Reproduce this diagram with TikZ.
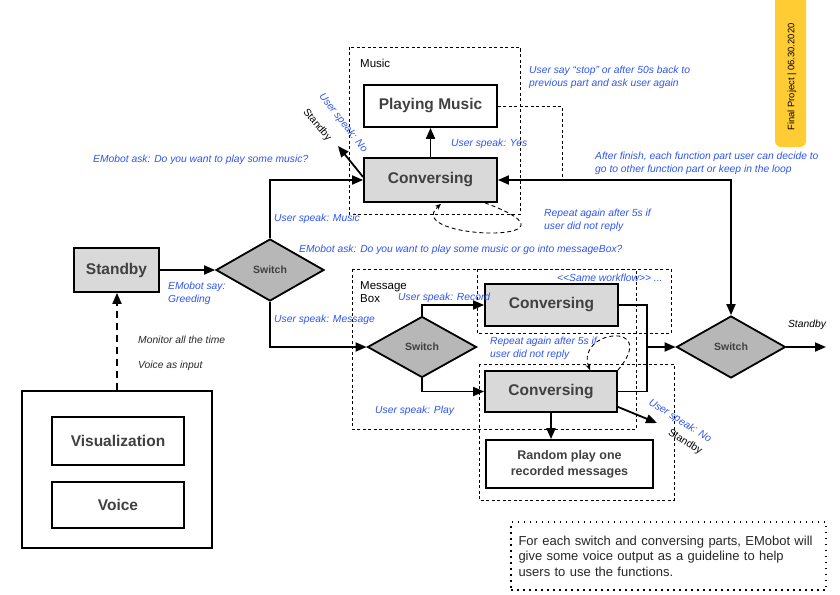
\documentclass[tikz,border=0pt]{standalone}
\usepackage{fontspec}
\setmainfont{Liberation Sans}
\usepackage{xcolor}
\usetikzlibrary{shapes.geometric,positioning,calc,arrows.meta}

\definecolor{talkblue}{RGB}{45,85,240}
\definecolor{boxtext}{RGB}{64,64,64}
\definecolor{convgray}{RGB}{217,217,217}
\definecolor{switchgray}{RGB}{183,183,183}
\definecolor{tagyellow}{RGB}{255,204,51}

\tikzset{
  box/.style={draw=black, line width=1.8pt, fill=white, text=boxtext,
    font=\fontsize{15.5}{18}\selectfont\bfseries, inner sep=0pt, align=center},
  convbox/.style={box, fill=convgray},
  switchnode/.style={diamond, draw=black, line width=1.8pt, fill=switchgray, text=boxtext,
    font=\fontsize{10.5}{12}\selectfont\bfseries, inner sep=0pt,
    minimum width=108pt, minimum height=62pt},
  say/.style={text=talkblue, font=\fontsize{10.3}{13}\selectfont\itshape, inner sep=0pt, align=left},
  remark/.style={text=black!85, font=\fontsize{10.3}{13}\selectfont\itshape, inner sep=0pt, align=left},
  grplabel/.style={text=black, font=\fontsize{11.5}{13}\selectfont, inner sep=0pt, align=left},
  grp/.style={draw=black, line width=0.8pt, dash pattern=on 3pt off 2.5pt},
  wire/.style={line width=1.8pt},
  flow/.style={line width=1.8pt, -{Triangle[length=11pt,width=9pt]}},
  bothway/.style={line width=1.8pt, {Triangle[length=11pt,width=9pt]}-{Triangle[length=11pt,width=9pt]}},
  loopback/.style={line width=0.9pt, dash pattern=on 4pt off 3pt, -{Stealth[length=6pt,width=5pt]}},
  notebox/.style={draw=black, line width=1.5pt, dash pattern=on 1.5pt off 4.5pt,
    font=\fontsize{13}{15.5}\selectfont, text=black!85, align=left,
    text width=300pt, inner xsep=7.5pt, minimum height=68pt}
}

\begin{document}
\begin{tikzpicture}[x=1pt, y=-1pt]
  \useasboundingbox (0,0) rectangle (840,594);

  % Date tag
  \fill[tagyellow, rounded corners=6pt] (775,-10) rectangle (806,147);
  \node[rotate=90, font=\fontsize{9.4}{11}\selectfont, inner sep=0pt] (datetag) at (792,77) {Final Project | 06.30.2020};

  % Group frames
  \draw[grp] (349,47) rectangle (520,214);   % Music
  \draw[grp] (352,269) rectangle (636,429);  % Message box
  \draw[grp] (477,269) rectangle (671,333);  % same workflow
  \draw[grp] (479,364) rectangle (674,500);  % play
  \node[grplabel, anchor=west] (musiclbl) at (360,63) {Music};
  \node[grplabel, anchor=west] (msglbl) at (360,292.5) {Message\\Box};

  % Input side
  \node[draw=black, line width=1.8pt, minimum width=190pt, minimum height=157pt] (input) at (117,469.5) {};
  \node[box, minimum width=132pt, minimum height=48pt] (vis) at (118,441) {Visualization};
  \node[box, minimum width=132pt, minimum height=46pt] (voice) at (118,505) {Voice};
  \node[convbox, minimum width=85pt, minimum height=44pt] (stby) at (116.5,270) {Standby};
  \draw[line width=1.8pt, dash pattern=on 7pt off 5pt, -{Triangle[length=11pt,width=9pt]}] (input.north) -- (input.north |- stby.south);
  \node[remark, anchor=west] (monitor) at (138,340) {Monitor all the time};
  \node[remark, anchor=west] (voicein) at (138,366) {Voice as input};

  % Main switch
  \node[switchnode] (sw1) at (270,270) {Switch};
  \draw[flow] (stby) -- (sw1);
  \node[say, anchor=west] (greet) at (168,293.5) {EMobot say:\\Greeding};

  % Music part
  \node[convbox, minimum width=133pt, minimum height=44pt] (conv1) at (430.5,180) {Conversing};
  \node[box, minimum width=133pt, minimum height=42pt] (music) at (430.5,106) {Playing Music};
  \draw[flow] (sw1.north) |- (conv1.west);
  \draw[flow] (conv1.north) -- (music.south);
  \coordinate (stbyA) at (338,146);
  \draw[flow] ($(conv1.west)+(0,-3)$) -- (stbyA);
  \coordinate (stopback) at (562,180);
  \draw[grp] (music.east) -| (stopback);
  \draw[loopback] ($(conv1.south)+(54.5,0)$) .. controls (600,245) and (400,240) .. ($(conv1.south)+(10.5,1)$);
  \node[say, anchor=west] (askmusic) at (93,160) {EMobot ask: Do you want to play some music?};
  \node[say, anchor=west] (spkmusic) at (274,219) {User speak: Music};
  \node[say, anchor=west] (spkyes) at (451,144) {User speak: Yes};
  \node[say, anchor=west] (stopnote) at (529,77.5) {User say “stop” or after 50s back to\\previous part and ask user again};
  \node[say, anchor=west] (repeat1) at (544,220.5) {Repeat again after 5s if\\user did not reply};
  \node[say, rotate=-52] (spkno1) at (343,123) {User speak: No};
  \node[remark, text=black, font=\fontsize{10.3}{13}\selectfont, rotate=-50] (stbytxt1) at (317,125) {Standby};

  % Message box part
  \node[switchnode, minimum width=109pt, minimum height=61pt] (sw2) at (422,347) {Switch};
  \node[convbox, minimum width=133pt, minimum height=42pt] (conv2) at (551.5,305) {Conversing};
  \node[convbox, minimum width=132pt, minimum height=41pt] (conv3) at (551,391.5) {Conversing};
  \node[box, minimum width=167pt, minimum height=48pt, font=\fontsize{12.5}{16}\selectfont\bfseries] (rand) at (569.5,464) {Random play one\\recorded messages};
  \draw[flow] (sw1.south) |- (sw2.west);
  \draw[flow] (sw2.north) |- (conv2.west);
  \draw[flow] (sw2.south) |- (conv3.west);
  \draw[flow] (conv3.south) -- (conv3.south |- rand.north);
  \coordinate (stbyB) at (657,423);
  \draw[flow] ($(conv3.south east)+(0,-6)$) -- (stbyB);
  \draw[loopback] (conv3.north east) .. controls (660,320) and (575,330) .. ($(conv3.north)+(39,0)$);
  \node[say, anchor=west] (askbox) at (299,250) {EMobot ask: Do you want to play some music or go into messageBox?};
  \node[say, anchor=west] (spkmsg) at (274,320) {User speak: Message};
  \node[say, anchor=west] (spkrec) at (398,298) {User speak: Record};
  \node[say, anchor=west] (spkplay) at (375,411) {User speak: Play};
  \node[say, anchor=west] (same) at (557,278) {<\kern0pt<Same workflow>\kern0pt> ...};
  \node[say, anchor=west] (repeat2) at (490,348.5) {Repeat again after 5s if\\user did not reply};
  \node[say, rotate=-32] (spkno2) at (680,421) {User speak: No};
  \node[remark, text=black, font=\fontsize{10.3}{13}\selectfont, rotate=-32] (stbytxt2) at (685,442) {Standby};

  % Exit switch
  \node[switchnode, minimum width=109pt] (sw3) at (731,347) {Switch};
  \coordinate (merge) at (647,347);
  \draw[wire] (conv2.east) -| (merge) |- (conv3.east);
  \draw[flow] (merge) -- (sw3.west);
  \draw[bothway] (sw3.north) |- (conv1.east);
  \coordinate (sw3out) at (826,347);
  \draw[flow] (sw3.east) -- (sw3out);
  \node[remark, text=black] (stbytxt3) at (807,325) {Standby};
  \node[say, anchor=west] (finish) at (595,163.5) {After finish, each function part user can decide to\\go to other function part or keep in the loop};

  % Guideline note
  \node[notebox] (guide) at (668.5,556) {For each switch and conversing parts, EMobot will\\give some voice output as a guideline to help\\users to use the functions.};
\end{tikzpicture}
\end{document}
